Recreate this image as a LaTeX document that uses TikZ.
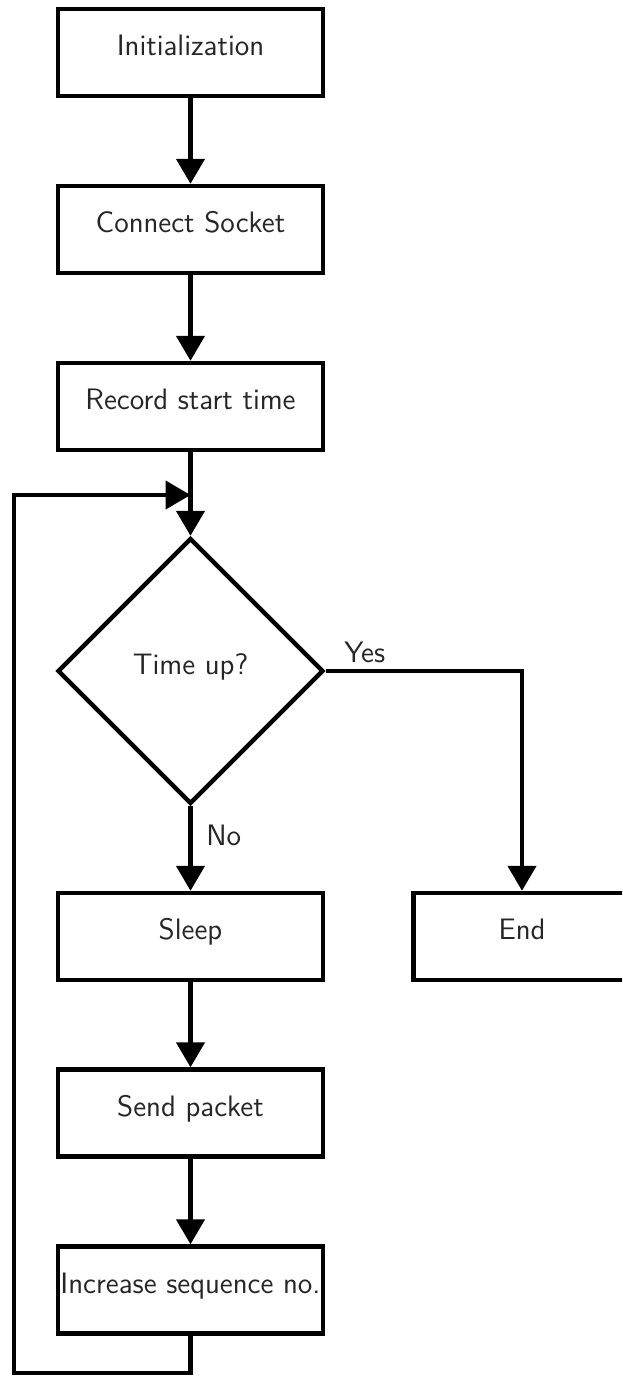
\documentclass[tikz,border=0pt]{standalone}
\usetikzlibrary{shapes.geometric,arrows.meta}
\begin{document}
\begin{tikzpicture}[
  x=0.5pt, y=-0.5pt,
  every node/.style={font=\sffamily\fontsize{14.8}{17}\selectfont, text=black!85},
  box/.style={draw=black, line width=2.2pt, rectangle, inner sep=0pt,
              minimum width=132.5pt, minimum height=43.5pt,
              text height=9pt, text depth=6pt},
  endbox/.style={box, minimum width=108.5pt},
  decision/.style={draw=black, line width=2.2pt, diamond, aspect=1, inner sep=0pt,
              minimum width=133pt, minimum height=133pt,
              text height=9pt, text depth=6pt},
  lbl/.style={inner sep=0pt},
  flow/.style={draw=black, line width=2.2pt, line join=miter,
              -{Triangle[length=12.5pt,width=14pt]}},
  link/.style={draw=black, line width=2.2pt, line join=miter}
]
\useasboundingbox (0,0) rectangle (622,1378);
\clip (0,0) rectangle (622,1378);

% main column
\node[box] (init)    at (190.5,52.5)  {Initialization};
\node[box] (connect) at (190.5,229.5) {Connect Socket};
\node[box] (record)  at (190.5,406.5) {Record start time};
\node[decision] (dec) at (190.5,671)  {Time up?};
\node[box] (sleep)   at (190.5,936.5) {Sleep};
\node[box] (send)    at (190.5,1113)  {Send packet};
\node[box] (inc)     at (190.5,1290)  {Increase sequence no.};
\node[endbox] (end)  at (522,936.5)   {End};

% branch labels
\node[lbl, anchor=base west] (yes) at (344,662) {Yes};
\node[lbl, anchor=base west] (no)  at (206,845) {No};

% loop-back route
\coordinate (merge)  at (190.5,495);
\coordinate (loopbr) at (190.5,1373);
\coordinate (loopbl) at (14,1373);
\coordinate (looptl) at (14,495);
\coordinate (yescorner) at (522,671);

% connectors
\draw[flow] (init) -- (connect);
\draw[flow] (connect) -- (record);
\draw[flow] (record) -- (dec);
\draw[flow] (dec) -- (sleep);
\draw[flow] (sleep) -- (send);
\draw[flow] (send) -- (inc);
\draw[flow] (dec.east) -- (yescorner) -- (end.north);
\draw[flow] (inc.south) -- (loopbr) -- (loopbl) -- (looptl) -- (merge);
\end{tikzpicture}
\end{document}
